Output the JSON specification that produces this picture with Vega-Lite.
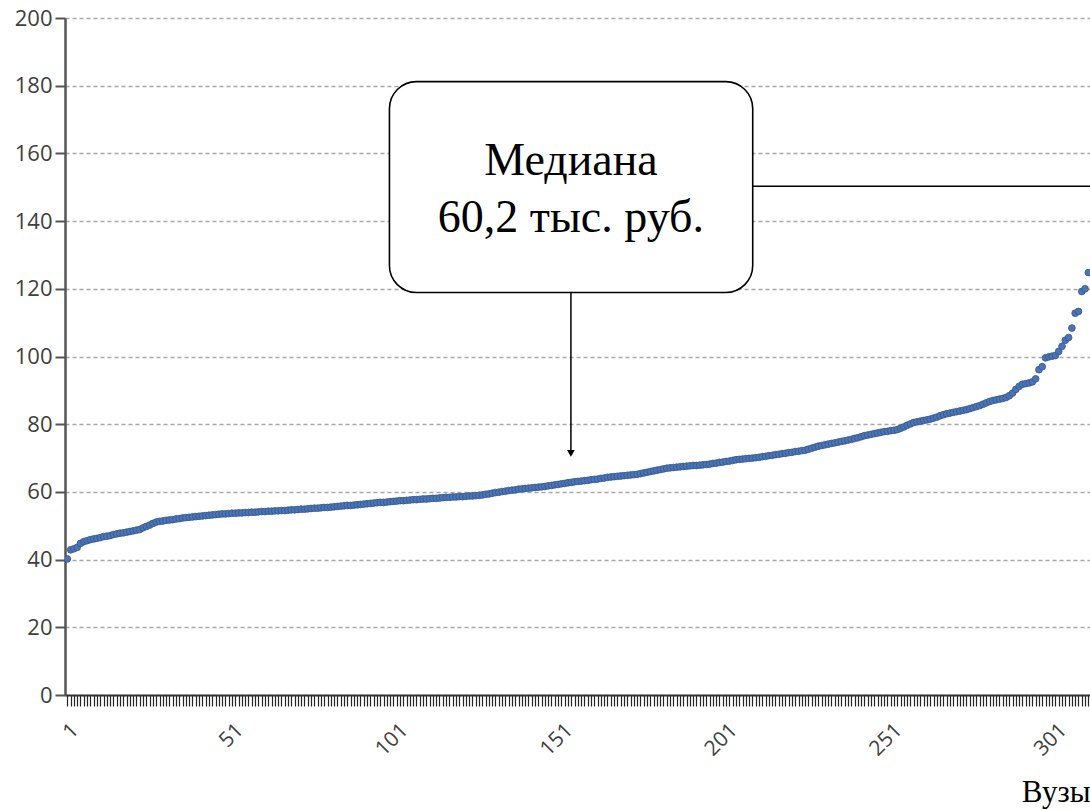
{
  "$schema": "https://vega.github.io/schema/vega-lite/v6.json",
  "autosize": {"type": "none"},
  "width": 1025,
  "height": 677,
  "padding": {"left": 65, "top": 18, "right": 0, "bottom": 115},
  "background": "white",
  "config": {"view": {"stroke": null}},
  "datasets": {
    "vuzy": [
      {"vuz":1,"value":40.2},{"vuz":2,"value":42.9},{"vuz":3,"value":43.2},{"vuz":4,"value":43.6},{"vuz":5,"value":44.8},
      {"vuz":6,"value":45.3},{"vuz":7,"value":45.6},{"vuz":8,"value":45.9},{"vuz":9,"value":46.1},{"vuz":10,"value":46.3},
      {"vuz":11,"value":46.5},{"vuz":12,"value":46.8},{"vuz":13,"value":46.9},{"vuz":14,"value":47.1},{"vuz":15,"value":47.4},
      {"vuz":16,"value":47.6},{"vuz":17,"value":47.8},{"vuz":18,"value":47.9},{"vuz":19,"value":48.1},{"vuz":20,"value":48.3},
      {"vuz":21,"value":48.5},{"vuz":22,"value":48.7},{"vuz":23,"value":48.9},{"vuz":24,"value":49.4},{"vuz":25,"value":49.8},
      {"vuz":26,"value":50.2},{"vuz":27,"value":50.7},{"vuz":28,"value":51.1},{"vuz":29,"value":51.3},{"vuz":30,"value":51.4},
      {"vuz":31,"value":51.6},{"vuz":32,"value":51.7},{"vuz":33,"value":51.8},{"vuz":34,"value":52.0},{"vuz":35,"value":52.1},
      {"vuz":36,"value":52.3},{"vuz":37,"value":52.4},{"vuz":38,"value":52.5},{"vuz":39,"value":52.6},{"vuz":40,"value":52.7},
      {"vuz":41,"value":52.8},{"vuz":42,"value":52.9},{"vuz":43,"value":53.0},{"vuz":44,"value":53.1},{"vuz":45,"value":53.2},
      {"vuz":46,"value":53.3},{"vuz":47,"value":53.4},{"vuz":48,"value":53.5},{"vuz":49,"value":53.5},{"vuz":50,"value":53.6},
      {"vuz":51,"value":53.7},{"vuz":52,"value":53.7},{"vuz":53,"value":53.8},{"vuz":54,"value":53.8},{"vuz":55,"value":53.9},
      {"vuz":56,"value":53.9},{"vuz":57,"value":54.0},{"vuz":58,"value":54.0},{"vuz":59,"value":54.1},{"vuz":60,"value":54.2},
      {"vuz":61,"value":54.2},{"vuz":62,"value":54.3},{"vuz":63,"value":54.3},{"vuz":64,"value":54.4},{"vuz":65,"value":54.4},
      {"vuz":66,"value":54.5},{"vuz":67,"value":54.5},{"vuz":68,"value":54.6},{"vuz":69,"value":54.7},{"vuz":70,"value":54.7},
      {"vuz":71,"value":54.8},{"vuz":72,"value":54.9},{"vuz":73,"value":54.9},{"vuz":74,"value":55.0},{"vuz":75,"value":55.1},
      {"vuz":76,"value":55.2},{"vuz":77,"value":55.2},{"vuz":78,"value":55.3},{"vuz":79,"value":55.4},{"vuz":80,"value":55.4},
      {"vuz":81,"value":55.5},{"vuz":82,"value":55.6},{"vuz":83,"value":55.7},{"vuz":84,"value":55.8},{"vuz":85,"value":55.9},
      {"vuz":86,"value":56.0},{"vuz":87,"value":56.0},{"vuz":88,"value":56.1},{"vuz":89,"value":56.2},{"vuz":90,"value":56.3},
      {"vuz":91,"value":56.4},{"vuz":92,"value":56.5},{"vuz":93,"value":56.6},{"vuz":94,"value":56.7},{"vuz":95,"value":56.8},
      {"vuz":96,"value":56.9},{"vuz":97,"value":56.9},{"vuz":98,"value":57.0},{"vuz":99,"value":57.1},{"vuz":100,"value":57.2},
      {"vuz":101,"value":57.3},{"vuz":102,"value":57.4},{"vuz":103,"value":57.4},{"vuz":104,"value":57.5},{"vuz":105,"value":57.6},
      {"vuz":106,"value":57.7},{"vuz":107,"value":57.7},{"vuz":108,"value":57.8},{"vuz":109,"value":57.9},{"vuz":110,"value":57.9},
      {"vuz":111,"value":58.0},{"vuz":112,"value":58.1},{"vuz":113,"value":58.1},{"vuz":114,"value":58.2},{"vuz":115,"value":58.3},
      {"vuz":116,"value":58.4},{"vuz":117,"value":58.4},{"vuz":118,"value":58.5},{"vuz":119,"value":58.5},{"vuz":120,"value":58.6},
      {"vuz":121,"value":58.6},{"vuz":122,"value":58.7},{"vuz":123,"value":58.8},{"vuz":124,"value":58.8},{"vuz":125,"value":58.9},
      {"vuz":126,"value":59.0},{"vuz":127,"value":59.1},{"vuz":128,"value":59.3},{"vuz":129,"value":59.4},{"vuz":130,"value":59.6},
      {"vuz":131,"value":59.8},{"vuz":132,"value":59.9},{"vuz":133,"value":60.1},{"vuz":134,"value":60.2},{"vuz":135,"value":60.4},
      {"vuz":136,"value":60.5},{"vuz":137,"value":60.6},{"vuz":138,"value":60.8},{"vuz":139,"value":60.9},{"vuz":140,"value":61.0},
      {"vuz":141,"value":61.1},{"vuz":142,"value":61.2},{"vuz":143,"value":61.3},{"vuz":144,"value":61.4},{"vuz":145,"value":61.5},
      {"vuz":146,"value":61.6},{"vuz":147,"value":61.8},{"vuz":148,"value":61.9},{"vuz":149,"value":62.1},{"vuz":150,"value":62.2},
      {"vuz":151,"value":62.4},{"vuz":152,"value":62.5},{"vuz":153,"value":62.7},{"vuz":154,"value":62.8},{"vuz":155,"value":63.0},
      {"vuz":156,"value":63.1},{"vuz":157,"value":63.2},{"vuz":158,"value":63.3},{"vuz":159,"value":63.4},{"vuz":160,"value":63.6},
      {"vuz":161,"value":63.7},{"vuz":162,"value":63.8},{"vuz":163,"value":64.0},{"vuz":164,"value":64.1},{"vuz":165,"value":64.3},
      {"vuz":166,"value":64.4},{"vuz":167,"value":64.5},{"vuz":168,"value":64.6},{"vuz":169,"value":64.7},{"vuz":170,"value":64.8},
      {"vuz":171,"value":64.9},{"vuz":172,"value":65.0},{"vuz":173,"value":65.1},{"vuz":174,"value":65.2},{"vuz":175,"value":65.4},
      {"vuz":176,"value":65.6},{"vuz":177,"value":65.8},{"vuz":178,"value":66.0},{"vuz":179,"value":66.2},{"vuz":180,"value":66.4},
      {"vuz":181,"value":66.6},{"vuz":182,"value":66.8},{"vuz":183,"value":67.0},{"vuz":184,"value":67.1},{"vuz":185,"value":67.2},
      {"vuz":186,"value":67.3},{"vuz":187,"value":67.4},{"vuz":188,"value":67.5},{"vuz":189,"value":67.6},{"vuz":190,"value":67.7},
      {"vuz":191,"value":67.8},{"vuz":192,"value":67.8},{"vuz":193,"value":67.9},{"vuz":194,"value":68.0},{"vuz":195,"value":68.1},
      {"vuz":196,"value":68.2},{"vuz":197,"value":68.4},{"vuz":198,"value":68.5},{"vuz":199,"value":68.7},{"vuz":200,"value":68.8},
      {"vuz":201,"value":69.0},{"vuz":202,"value":69.1},{"vuz":203,"value":69.3},{"vuz":204,"value":69.5},{"vuz":205,"value":69.6},
      {"vuz":206,"value":69.7},{"vuz":207,"value":69.8},{"vuz":208,"value":69.9},{"vuz":209,"value":70.0},{"vuz":210,"value":70.1},
      {"vuz":211,"value":70.2},{"vuz":212,"value":70.4},{"vuz":213,"value":70.5},{"vuz":214,"value":70.7},{"vuz":215,"value":70.8},
      {"vuz":216,"value":71.0},{"vuz":217,"value":71.1},{"vuz":218,"value":71.3},{"vuz":219,"value":71.4},{"vuz":220,"value":71.6},
      {"vuz":221,"value":71.7},{"vuz":222,"value":71.9},{"vuz":223,"value":72.0},{"vuz":224,"value":72.2},{"vuz":225,"value":72.3},
      {"vuz":226,"value":72.6},{"vuz":227,"value":72.9},{"vuz":228,"value":73.2},{"vuz":229,"value":73.5},{"vuz":230,"value":73.7},
      {"vuz":231,"value":73.9},{"vuz":232,"value":74.1},{"vuz":233,"value":74.3},{"vuz":234,"value":74.5},{"vuz":235,"value":74.7},
      {"vuz":236,"value":74.9},{"vuz":237,"value":75.1},{"vuz":238,"value":75.3},{"vuz":239,"value":75.5},{"vuz":240,"value":75.8},
      {"vuz":241,"value":76.0},{"vuz":242,"value":76.3},{"vuz":243,"value":76.6},{"vuz":244,"value":76.8},{"vuz":245,"value":77.0},
      {"vuz":246,"value":77.2},{"vuz":247,"value":77.4},{"vuz":248,"value":77.6},{"vuz":249,"value":77.8},{"vuz":250,"value":77.9},
      {"vuz":251,"value":78.1},{"vuz":252,"value":78.2},{"vuz":253,"value":78.4},{"vuz":254,"value":78.8},{"vuz":255,"value":79.2},
      {"vuz":256,"value":79.7},{"vuz":257,"value":80.1},{"vuz":258,"value":80.5},{"vuz":259,"value":80.7},{"vuz":260,"value":80.9},
      {"vuz":261,"value":81.1},{"vuz":262,"value":81.3},{"vuz":263,"value":81.5},{"vuz":264,"value":81.8},{"vuz":265,"value":82.1},
      {"vuz":266,"value":82.5},{"vuz":267,"value":82.8},{"vuz":268,"value":83.1},{"vuz":269,"value":83.3},{"vuz":270,"value":83.5},
      {"vuz":271,"value":83.7},{"vuz":272,"value":83.9},{"vuz":273,"value":84.1},{"vuz":274,"value":84.3},{"vuz":275,"value":84.6},
      {"vuz":276,"value":84.9},{"vuz":277,"value":85.2},{"vuz":278,"value":85.5},{"vuz":279,"value":85.9},{"vuz":280,"value":86.3},
      {"vuz":281,"value":86.7},{"vuz":282,"value":87.0},{"vuz":283,"value":87.2},{"vuz":284,"value":87.4},{"vuz":285,"value":87.6},
      {"vuz":286,"value":87.9},{"vuz":287,"value":88.4},{"vuz":288,"value":89.2},{"vuz":289,"value":90.3},{"vuz":290,"value":91.2},
      {"vuz":291,"value":91.8},{"vuz":292,"value":92.0},{"vuz":293,"value":92.2},{"vuz":294,"value":92.5},{"vuz":295,"value":93.4},
      {"vuz":296,"value":96.1},{"vuz":297,"value":97.0},{"vuz":298,"value":99.6},{"vuz":299,"value":99.9},{"vuz":300,"value":100.1},
      {"vuz":301,"value":100.3},{"vuz":302,"value":101.5},{"vuz":303,"value":103.0},{"vuz":304,"value":104.8},{"vuz":305,"value":105.6},
      {"vuz":306,"value":108.4},{"vuz":307,"value":112.8},{"vuz":308,"value":113.3},{"vuz":309,"value":119.2},{"vuz":310,"value":120.0},
      {"vuz":311,"value":124.8}
    ]
  },
  "layer": [
    {
      "data": {"name": "vuzy"},
      "mark": {"type": "point", "filled": true, "shape": "circle", "size": 46, "color": "#4a74b4", "stroke": "#36598f", "strokeWidth": 0.8, "opacity": 1, "clip": true},
      "encoding": {
        "x": {
          "field": "vuz", "type": "quantitative",
          "scale": {"domain": [0.3, 311.5], "nice": false, "zero": false},
          "axis": {
            "title": "Вузы",
            "titleFont": "Liberation Serif", "titleFontSize": 31, "titleFontWeight": "normal", "titleColor": "#000000",
            "titleAnchor": "end", "titleAlign": "right", "titleBaseline": "alphabetic", "titleY": 106,
            "tickCount": 300,
            "labelExpr": "(datum.value - 1) % 50 == 0 ? datum.label : ''",
            "labelOverlap": false, "labelFlush": false,
            "labelAngle": -45, "labelAlign": "right", "labelBaseline": "top",
            "labelPadding": 13,
            "labelFont": "Open Sans", "labelFontSize": 21, "labelColor": "#404040",
            "grid": false,
            "domainColor": "#333333", "domainWidth": 2,
            "tickColor": "#262626", "tickWidth": 1.2, "tickSize": 11
          }
        },
        "y": {
          "field": "value", "type": "quantitative",
          "scale": {"domain": [0, 200], "nice": false},
          "axis": {
            "title": null,
            "values": [0, 20, 40, 60, 80, 100, 120, 140, 160, 180, 200],
            "labelFont": "Open Sans", "labelFontSize": 22, "labelColor": "#404040", "labelPadding": 3,
            "domainColor": "#555555", "domainWidth": 2.5,
            "tickColor": "#555555", "tickWidth": 2, "tickSize": 10,
            "grid": true, "gridColor": "#a8a8a8", "gridDash": [4, 3], "gridWidth": 1.4
          }
        }
      }
    },
    {
      "data": {"values": [{}]},
      "mark": {"type": "rule", "color": "#000000", "strokeWidth": 1.5, "clip": true},
      "encoding": {
        "x": {"datum": 209.1, "type": "quantitative"},
        "x2": {"datum": 311.5},
        "y": {"datum": 150.3, "type": "quantitative"}
      }
    },
    {
      "data": {"values": [{}]},
      "mark": {"type": "rule", "color": "#000000", "strokeWidth": 1.5},
      "encoding": {
        "x": {"datum": 153.9, "type": "quantitative"},
        "y": {"datum": 118.9, "type": "quantitative"},
        "y2": {"datum": 71.5}
      }
    },
    {
      "data": {"values": [{}]},
      "mark": {"type": "point", "shape": "triangle-down", "filled": true, "color": "#000000", "size": 60, "opacity": 1},
      "encoding": {
        "x": {"datum": 153.9, "type": "quantitative"},
        "y": {"datum": 71.4, "type": "quantitative"}
      }
    },
    {
      "data": {"values": [{}]},
      "mark": {"type": "rect", "fill": "#ffffff", "stroke": "#000000", "strokeWidth": 1.6, "cornerRadius": 27},
      "encoding": {
        "x": {"datum": 98.8, "type": "quantitative"},
        "x2": {"datum": 209.1},
        "y": {"datum": 181.2, "type": "quantitative"},
        "y2": {"datum": 118.9}
      }
    },
    {
      "data": {"values": [{}]},
      "mark": {"type": "text", "text": ["Медиана", "60,2 тыс. руб."], "font": "Liberation Serif", "fontSize": 46, "lineHeight": 57.7, "align": "center", "baseline": "alphabetic", "color": "#000000"},
      "encoding": {
        "x": {"datum": 153.9, "type": "quantitative"},
        "y": {"datum": 153.7, "type": "quantitative"}
      }
    }
  ]
}
